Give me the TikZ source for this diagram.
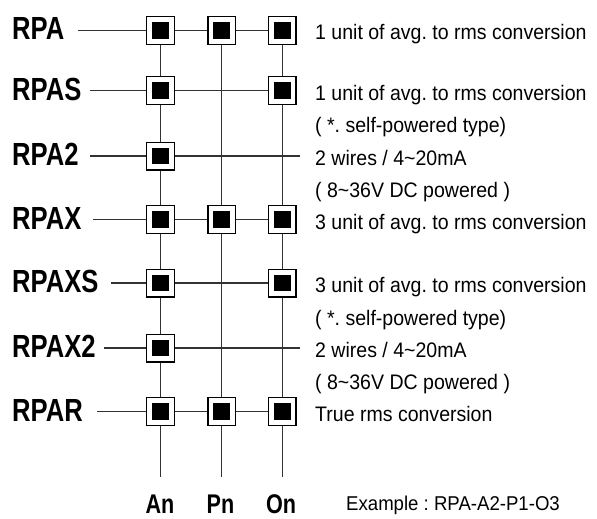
\documentclass[tikz,border=0pt]{standalone}
\usepackage{fontspec}
\setmainfont{Liberation Sans}
\newfontfamily\lblfont[FakeStretch=0.8]{Liberation Sans Bold}
\newfontfamily\descfont[FakeStretch=0.93]{Liberation Sans}
\frenchspacing
\begin{document}
\begin{tikzpicture}[x=1pt,y=-1pt,
  sel/.style={draw=black, line width=1.3pt, fill=white, minimum size=27.7pt, inner sep=0pt,
    path picture={\fill[black] ([xshift=-8.3pt,yshift=-8.3pt]path picture bounding box.center) rectangle ([xshift=8.3pt,yshift=8.3pt]path picture bounding box.center);}},
  wire/.style={draw=black!80, line width=1.2pt},
  model/.style={font=\lblfont\fontsize{32}{36}\selectfont, anchor=base west, inner sep=0pt},
  desc/.style={font=\descfont\frenchspacing\fontsize{21}{25}\selectfont, anchor=base west, inner sep=0pt},
  colname/.style={font=\lblfont\fontsize{27}{32}\selectfont, anchor=base, inner sep=0pt}]
\useasboundingbox (0,0) rectangle (597,519);
% rows
\node[model] (l1) at (12,40) {RPA};
\node[model] (l2) at (12,100) {RPAS};
\node[model] (l3) at (12,165.5) {RPA2};
\node[model] (l4) at (12,229) {RPAX};
\node[model] (l5) at (12,292.5) {RPAXS};
\node[model] (l6) at (12,357.5) {RPAX2};
\node[model] (l7) at (12,421) {RPAR};
% boxes
\node[sel] (a1) at (160.5,30.5) {};
\node[sel] (p1) at (221.7,30.5) {};
\node[sel] (o1) at (282.2,30.5) {};
\node[sel] (a2) at (160.5,90.5) {};
\node[sel] (o2) at (282.2,90.5) {};
\node[sel] (a3) at (160.5,156) {};
\node[sel] (a4) at (160.5,219.5) {};
\node[sel] (p4) at (221.7,219.5) {};
\node[sel] (o4) at (282.2,219.5) {};
\node[sel] (a5) at (160.5,283) {};
\node[sel] (o5) at (282.2,283) {};
\node[sel] (a6) at (160.5,348) {};
\node[sel] (a7) at (160.5,411.5) {};
\node[sel] (p7) at (221.7,411.5) {};
\node[sel] (o7) at (282.2,411.5) {};
% free ends
\coordinate (s1) at (78,30.5);
\coordinate (s2) at (90,90.5);
\coordinate (s3) at (90,156);
\coordinate (s4) at (93,219.5);
\coordinate (s5) at (111,283);
\coordinate (s6) at (104,348);
\coordinate (s7) at (97,411.5);
\coordinate (e3) at (300,156);
\coordinate (e6) at (300,348);
\coordinate (ba) at (160.5,477);
\coordinate (bp) at (221.7,477);
\coordinate (bo) at (282.2,477);
% horizontal wires
\draw[wire] (s1) -- (a1.west) (a1.east) -- (p1.west) (p1.east) -- (o1.west);
\draw[wire] (s2) -- (a2.west) (a2.east) -- (o2.west);
\draw[wire] (s3) -- (a3.west) (a3.east) -- (e3);
\draw[wire] (s4) -- (a4.west) (a4.east) -- (p4.west) (p4.east) -- (o4.west);
\draw[wire] (s5) -- (a5.west) (a5.east) -- (o5.west);
\draw[wire] (s6) -- (a6.west) (a6.east) -- (e6);
\draw[wire] (s7) -- (a7.west) (a7.east) -- (p7.west) (p7.east) -- (o7.west);
% vertical wires
\draw[wire] (a1.south) -- (a2.north) (a2.south) -- (a3.north) (a3.south) -- (a4.north)
  (a4.south) -- (a5.north) (a5.south) -- (a6.north) (a6.south) -- (a7.north) (a7.south) -- (ba);
\draw[wire] (p1.south) -- (p4.north) (p4.south) -- (p7.north) (p7.south) -- (bp);
\draw[wire] (o1.south) -- (o2.north) (o2.south) -- (o4.north) (o4.south) -- (o5.north)
  (o5.south) -- (o7.north) (o7.south) -- (bo);
% descriptions
\node[desc] (d1) at (315,40) {1 unit of avg. to rms conversion};
\node[desc] (d2) at (315,100) {1 unit of avg. to rms conversion};
\node[desc] (d2b) at (315,132.75) {( *. self-powered type)};
\node[desc] (d3) at (315,165.5) {2 wires / 4\char`~20mA};
\node[desc] (d3b) at (315,197.25) {( 8\char`~36V DC powered )};
\node[desc] (d4) at (315,229) {3 unit of avg. to rms conversion};
\node[desc] (d5) at (315,292.5) {3 unit of avg. to rms conversion};
\node[desc] (d5b) at (315,325) {( *. self-powered type)};
\node[desc] (d6) at (315,357.5) {2 wires / 4\char`~20mA};
\node[desc] (d6b) at (315,389.25) {( 8\char`~36V DC powered )};
\node[desc] (d7) at (315,421) {True rms conversion};
% column names
\node[colname] (ca) at (160,513) {An};
\node[colname] (cp) at (220.5,513) {Pn};
\node[colname] (co) at (281,513) {On};
\node[desc, font=\descfont\frenchspacing\fontsize{20}{24}\selectfont] (ex) at (346,510) {Example : RPA-A2-P1-O3};
\end{tikzpicture}
\end{document}
